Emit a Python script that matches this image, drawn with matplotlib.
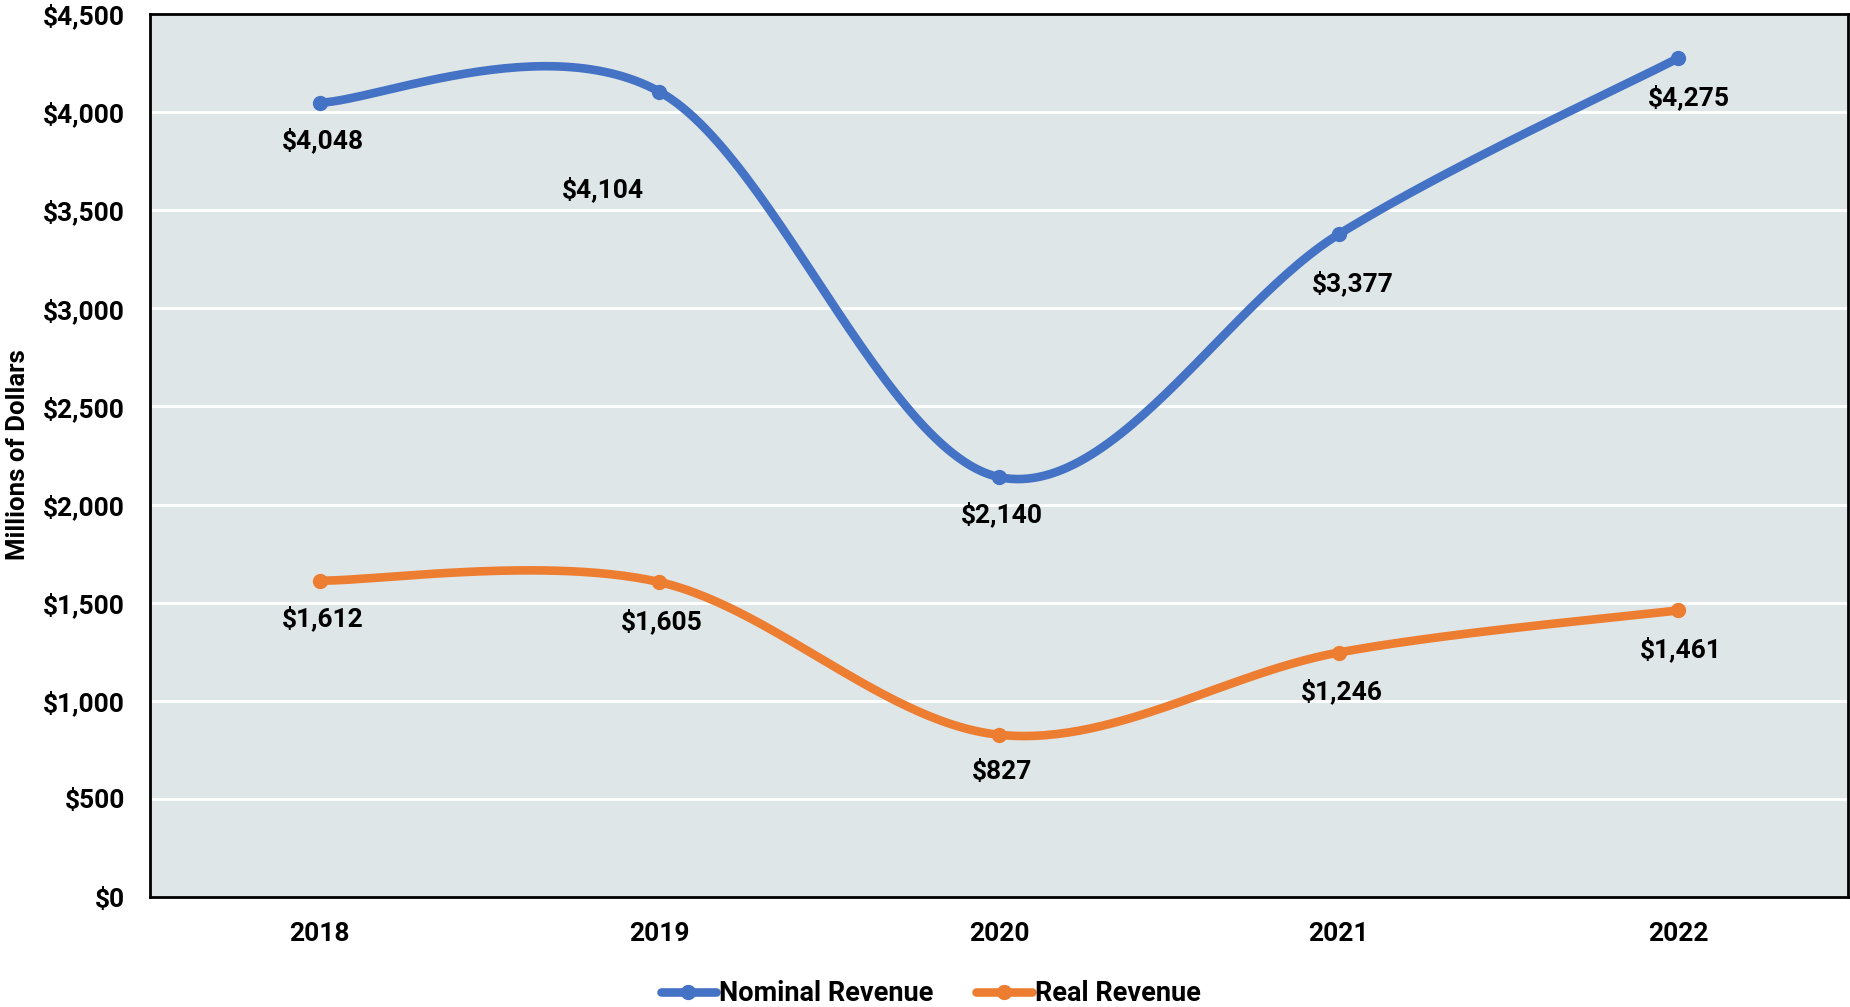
import numpy as np
import matplotlib.pyplot as plt
from matplotlib.ticker import FuncFormatter

years = ['2018', '2019', '2020', '2021', '2022']
nominal_revenue = [4048, 4104, 2140, 3377, 4275]
real_revenue = [1612, 1605, 827, 1246, 1461]

# label offsets (points) from each marker
nominal_offsets = [(2, -27), (-41, -70), (2, -27), (10, -35), (8, -28)]
real_offsets = [(2, -27), (2, -28), (2, -27), (2, -28), (2, -28)]

BLUE = '#4472C4'
ORANGE = '#ED7D31'
BG = '#DFE6E8'

plt.rcParams['font.family'] = ['Roboto', 'DejaVu Sans']
plt.rcParams['font.weight'] = 'bold'


def smooth_curve(x, y, steps=60):
    """Bezier smoothing through every point (Catmull-Rom style control points)."""
    pts = np.column_stack([x, y]).astype(float)
    n = len(pts)
    out = []
    for i in range(n - 1):
        p0 = pts[max(i - 1, 0)]
        p1 = pts[i]
        p2 = pts[i + 1]
        p3 = pts[min(i + 2, n - 1)]
        c1 = p1 + (p2 - p0) / 6
        c2 = p2 - (p3 - p1) / 6
        t = np.linspace(0, 1, steps)[:, None]
        seg = ((1 - t) ** 3 * p1 + 3 * (1 - t) ** 2 * t * c1
               + 3 * (1 - t) * t ** 2 * c2 + t ** 3 * p2)
        out.append(seg if i == 0 else seg[1:])
    curve = np.vstack(out)
    return curve[:, 0], curve[:, 1]


fig = plt.figure(figsize=(18.5, 10.07), dpi=100)
ax = fig.add_axes([0.0811, 0.1092, 0.9178, 0.8769])
ax.set_facecolor(BG)

x = np.arange(len(years))
series = [
    ('Nominal Revenue', nominal_revenue, BLUE, nominal_offsets),
    ('Real Revenue', real_revenue, ORANGE, real_offsets),
]
for name, values, color, offsets in series:
    sx, sy = smooth_curve(x, values)
    ax.plot(sx, sy, color=color, lw=6.2, solid_capstyle='round', zorder=3)
    ax.plot(x, values, 'o', color=color, ms=10, zorder=4)
    # legend proxy: line with a marker in the middle
    ax.plot([], [], color=color, lw=6.2, marker='o', ms=10,
            solid_capstyle='round', label=name)
    for xi, v, off in zip(x, values, offsets):
        ax.annotate(f'${v:,}', (xi, v), xytext=off, textcoords='offset points',
                    ha='center', va='center', fontsize=19, fontweight='bold',
                    zorder=5)

ax.set_xlim(-0.5, len(years) - 0.5)
ax.set_ylim(0, 4500)
ax.set_xticks(x)
ax.set_xticklabels(years)
ax.set_yticks(np.arange(0, 4501, 500))
ax.yaxis.set_major_formatter(FuncFormatter(lambda v, _: f'${v:,.0f}'))
ax.tick_params(axis='both', length=0, labelsize=19)
ax.tick_params(axis='y', pad=18)
ax.tick_params(axis='x', pad=18)

ax.grid(axis='y', color='white', lw=2)
ax.set_axisbelow(True)
for spine in ax.spines.values():
    spine.set_color('black')
    spine.set_linewidth(2)

fig.text(0.0097, 0.549, 'Millions of Dollars', rotation=90, ha='center',
         va='center', fontsize=18.5, fontweight='bold')

fig.legend(loc='center', bbox_to_anchor=(0.503, 0.013), ncol=2, frameon=False,
           handlelength=2.05, handletextpad=0.1, columnspacing=1.6,
           prop={'weight': 'bold', 'size': 19.5})

fig.savefig('out.png', dpi=100, facecolor='white')
